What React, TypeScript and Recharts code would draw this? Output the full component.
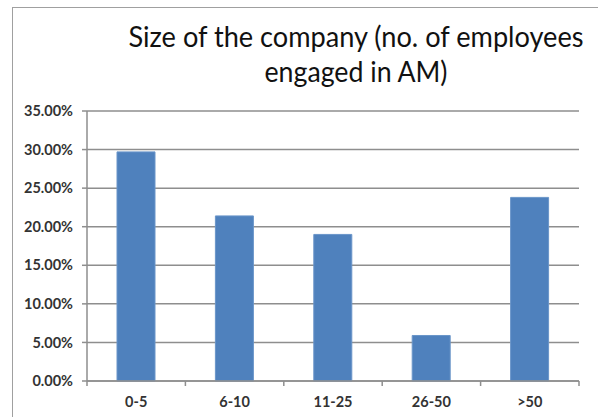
import { BarChart, Bar, XAxis, YAxis, CartesianGrid } from "recharts"

const categories = ["0-5", "6-10", "11-25", "26-50", ">50"]
const shares = [29.7, 21.4, 19.0, 5.9, 23.8]
const yTicks = [0, 5, 10, 15, 20, 25, 30, 35]
const titleLines = ["Size of the company (no. of employees", "engaged in AM)"]

const data = categories.map((c, i) => ({ category: c, share: shares[i] }))

const grey = "#8e8e8e"
const tickFont = { fontFamily: "Lato, 'DejaVu Sans', sans-serif", fontSize: 14.5, fontWeight: 700 }

// x ticks sit between the categories, Excel style
function CategoryTick(props: any) {
  const { x, y, payload, index, visibleTicksCount } = props
  const half = payload?.offset || 49.2
  const axisY = y
  const last = index === visibleTicksCount - 1
  return (
    <g>
      <line x1={x - half} x2={x - half} y1={axisY} y2={axisY + 5} stroke={grey} strokeWidth={1.5} />
      {last && <line x1={x + half} x2={x + half} y1={axisY} y2={axisY + 5} stroke={grey} strokeWidth={1.5} />}
      <text x={x} y={axisY + 26} textAnchor="middle" fill="#333" style={tickFont}>
        {payload.value}
      </text>
    </g>
  )
}

export default function App() {
  return (
    <div style={{ position: "absolute", left: 0, top: 0, width: 598, height: 417, overflow: "hidden", background: "#fff" }}>
      <div
        style={{
          position: "absolute",
          left: 12,
          top: 7,
          width: 700,
          height: 500,
          border: "1.5px solid #a0a0a0",
        }}
      />
      <BarChart
        width={598}
        height={417}
        data={data}
        margin={{ top: 111, right: 19, bottom: 6, left: 12 }}
        style={{ position: "absolute", left: 0, top: 0 }}
      >
        <CartesianGrid vertical={false} stroke={grey} strokeWidth={1.5} />
        <XAxis
          dataKey="category"
          height={30}
          axisLine={{ stroke: grey, strokeWidth: 1.5 }}
          tickLine={false}
          tickSize={0}
          tickMargin={0}
          interval={0}
          tick={<CategoryTick />}
        />
        <YAxis
          width={75}
          domain={[0, 35]}
          ticks={yTicks}
          interval={0}
          tickFormatter={(v: number) => v.toFixed(2) + "%"}
          axisLine={{ stroke: grey, strokeWidth: 1.5 }}
          tickLine={{ stroke: grey, strokeWidth: 1.5 }}
          tickSize={5}
          tickMargin={9}
          tick={{ fill: "#333", ...tickFont }}
        />
        <Bar dataKey="share" fill="#4f81bd" stroke="#6a95c9" strokeWidth={1} barSize={38} isAnimationActive={false} />
      </BarChart>
      <svg width={598} height={417} style={{ position: "absolute", left: 0, top: 0, pointerEvents: "none" }}>
        <text
          x={356}
          y={47}
          textAnchor="middle"
          textLength={455}
          lengthAdjust="spacingAndGlyphs"
          fill="#111"
          style={{ fontFamily: "Lato, 'Open Sans', sans-serif", fontSize: 28 }}
        >
          {titleLines[0]}
        </text>
        <text
          x={356}
          y={82}
          textAnchor="middle"
          textLength={183}
          lengthAdjust="spacingAndGlyphs"
          fill="#111"
          style={{ fontFamily: "Lato, 'Open Sans', sans-serif", fontSize: 28 }}
        >
          {titleLines[1]}
        </text>
      </svg>
    </div>
  )
}
